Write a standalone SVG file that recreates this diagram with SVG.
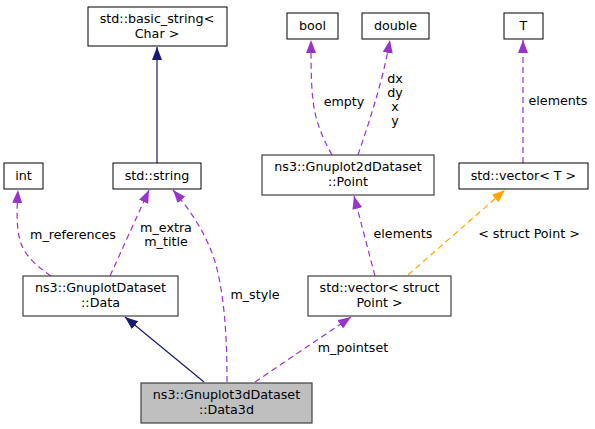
<svg xmlns="http://www.w3.org/2000/svg" width="595" height="429" viewBox="0 0 595 429">
<style>
text{font-family:"DejaVu Sans",sans-serif;font-size:12.7px;fill:#000;text-anchor:middle}
.n{fill:#fff;stroke:#000;stroke-width:1}
.g{fill:#fff;stroke:#404040;stroke-width:1.2}
.root{fill:#bfbfbf;stroke:#404040;stroke-width:1.2}
.inh{fill:none;stroke:#191970;stroke-width:1.2}
.use{fill:none;stroke:#9a32cd;stroke-width:1.2;stroke-dasharray:6,4}
.tpl{fill:none;stroke:#ffa500;stroke-width:1.2;stroke-dasharray:6,4}
</style>
<defs>
<marker id="aInh" viewBox="0 0 13 10" refX="13" refY="5" markerWidth="13" markerHeight="10" markerUnits="userSpaceOnUse" orient="auto"><path d="M0,0L13,5L0,10z" fill="#191970"/></marker>
<marker id="aUse" viewBox="0 0 13 10" refX="13" refY="5" markerWidth="13" markerHeight="10" markerUnits="userSpaceOnUse" orient="auto"><path d="M0,0L13,5L0,10z" fill="#9a32cd"/></marker>
<marker id="aTpl" viewBox="0 0 13 10" refX="13" refY="5" markerWidth="13" markerHeight="10" markerUnits="userSpaceOnUse" orient="auto"><path d="M0,0L13,5L0,10z" fill="#ffa500"/></marker>
</defs>
<g id="connectors">
<path class="inh" d="M157,163L157,47" marker-end="url(#aInh)"/>
<path class="inh" d="M204,382L125,317" marker-end="url(#aInh)"/>
<path class="use" d="M51,276C38,267 24,256 20,240C16,227 17,206 18,190" marker-end="url(#aUse)"/>
<path class="use" d="M110,276L149,190" marker-end="url(#aUse)"/>
<path class="use" d="M227,382C227,340 225,300 216,265C208,237 192,212 173,190" marker-end="url(#aUse)"/>
<path class="use" d="M332,155C322,137 315,120 313,100C311,85 311,60 311,40" marker-end="url(#aUse)"/>
<path class="use" d="M358,155C368,125 382,85 390,40" marker-end="url(#aUse)"/>
<path class="use" d="M523,163L523,40" marker-end="url(#aUse)"/>
<path class="use" d="M375,276L354,196" marker-end="url(#aUse)"/>
<path class="tpl" d="M408,275L505,190" marker-end="url(#aTpl)"/>
<path class="use" d="M255,382L351,317" marker-end="url(#aUse)"/>
<text x="73" y="239">m_references</text>
<text x="166" y="232">m_extra</text>
<text x="166" y="246">m_title</text>
<text x="255" y="299">m_style</text>
<text x="344" y="106">empty</text>
<text x="395" y="83">dx</text>
<text x="395" y="97">dy</text>
<text x="395" y="111">x</text>
<text x="395" y="125">y</text>
<text x="558" y="105">elements</text>
<text x="403" y="238">elements</text>
<text x="529" y="238">&lt; struct Point &gt;</text>
<text x="353" y="352">m_pointset</text>
</g>
<g id="basic_string"><rect class="n" x="88" y="7" width="139" height="39"/><text x="157" y="23">std::basic_string&lt;</text><text x="157" y="38">Char &gt;</text></g>
<g id="string"><rect class="n" x="113" y="163" width="88" height="26"/><text x="157" y="180">std::string</text></g>
<g id="int"><rect class="n" x="4" y="163" width="39" height="26"/><text x="23.5" y="180">int</text></g>
<g id="bool"><rect class="n" x="287" y="13" width="51" height="26"/><text x="312.5" y="30">bool</text></g>
<g id="double"><rect class="n" x="362" y="13" width="67" height="26"/><text x="395.5" y="30">double</text></g>
<g id="T"><rect class="n" x="504" y="13" width="39" height="26"/><text x="523.5" y="30">T</text></g>
<g id="point"><rect class="g" x="262" y="155" width="172" height="40"/><text x="348" y="171">ns3::Gnuplot2dDataset</text><text x="348" y="186">::Point</text></g>
<g id="vectorT"><rect class="n" x="459" y="163" width="129" height="26"/><text x="523.5" y="180">std::vector&lt; T &gt;</text></g>
<g id="data"><rect class="g" x="23" y="276" width="155" height="40"/><text x="100.5" y="292">ns3::GnuplotDataset</text><text x="100.5" y="307">::Data</text></g>
<g id="vectorPoint"><rect class="g" x="308" y="276" width="143" height="40"/><text x="379.5" y="292">std::vector&lt; struct</text><text x="379.5" y="307">Point &gt;</text></g>
<g id="data3d"><rect class="root" x="141" y="383" width="171" height="40"/><text x="226.5" y="399">ns3::Gnuplot3dDataset</text><text x="226.5" y="414">::Data3d</text></g>
</svg>
